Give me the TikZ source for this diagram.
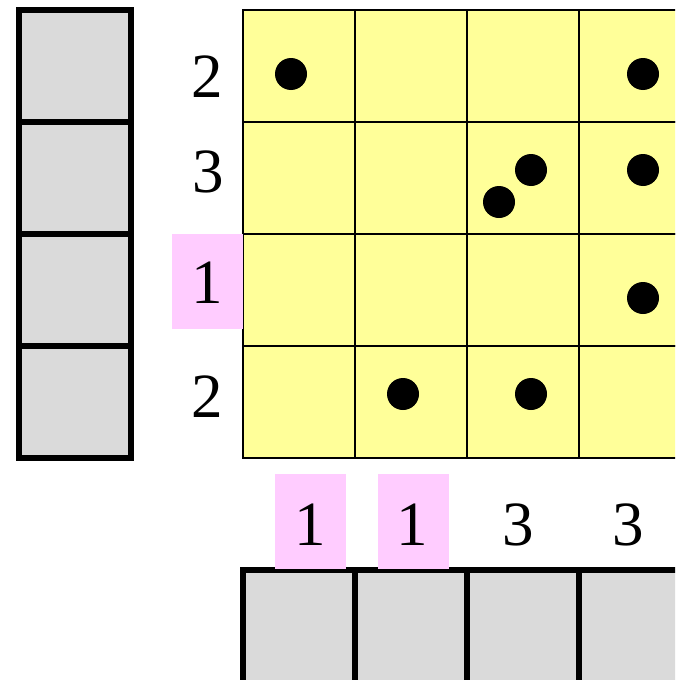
\documentclass[tikz,border=0pt]{standalone}
\usepackage{fontspec}
\setmainfont{Liberation Serif}
\usepackage{xcolor}
\definecolor{cellyellow}{HTML}{FFFF99}
\definecolor{boxgray}{HTML}{DADADA}
\definecolor{hintpink}{HTML}{FFCCFF}
\usetikzlibrary{positioning}

\begin{document}
\begin{tikzpicture}[x=1pt, y=-1pt,
  graybox/.style={draw=black, fill=boxgray, line width=5.2pt, minimum size=112pt, inner sep=0pt, outer sep=0pt},
  cell/.style={draw=black, fill=cellyellow, line width=1.5pt, minimum size=112pt, inner sep=0pt, outer sep=0pt},
  clue/.style={font=\fontsize{63}{70}\selectfont, inner sep=0pt},
  pinkclue/.style={fill=hintpink, minimum width=71pt, minimum height=95pt, inner sep=0pt}]
  \clip (0,0) rectangle (675,680);
  \fill[white] (0,0) rectangle (675,680);
  % left column of boxes
  \foreach \r in {0,...,3} {
    \node[graybox] (left\r) at (75, 66+112*\r) {};
  }
  % bottom row of boxes
  \foreach \c in {0,...,3} {
    \node[graybox, minimum height=116pt] (bot\c) at (299+112*\c, 628) {};
  }
  % yellow grid
  \foreach \r in {0,...,3} {
    \foreach \c in {0,...,3} {
      \node[cell] (c\r\c) at (299+112*\c, 66+112*\r) {};
    }
  }
  % pink backgrounds
  \node[pinkclue] (rowpink) at (207.5, 281.5) {};
  \node[pinkclue] (colpink0) at (310.5, 521.5) {};
  \node[pinkclue] (colpink1) at (413.5, 521.5) {};
  % row clues
  \node[clue] (row0) at (207, 77) {2};
  \node[clue] (row1) at (208, 172) {3};
  \node[clue] (row2) at (207, 283) {1};
  \node[clue] (row3) at (207, 397) {2};
  % column clues
  \node[clue] (col0) at (310, 525) {1};
  \node[clue] (col1) at (412, 525) {1};
  \node[clue] (col2) at (518, 525) {3};
  \node[clue] (col3) at (628, 525) {3};
  % stones
  \fill (c00) ++(-8,8) circle (16pt);
  \fill (c03) ++(8,8) circle (16pt);
  \fill (c12) ++(8,-8) circle (16pt);
  \fill (c12) ++(-24,24) circle (16pt);
  \fill (c13) ++(8,-8) circle (16pt);
  \fill (c23) ++(8,8) circle (16pt);
  \fill (c31) ++(-8,-8) circle (16pt);
  \fill (c32) ++(8,-8) circle (16pt);
\end{tikzpicture}
\end{document}
